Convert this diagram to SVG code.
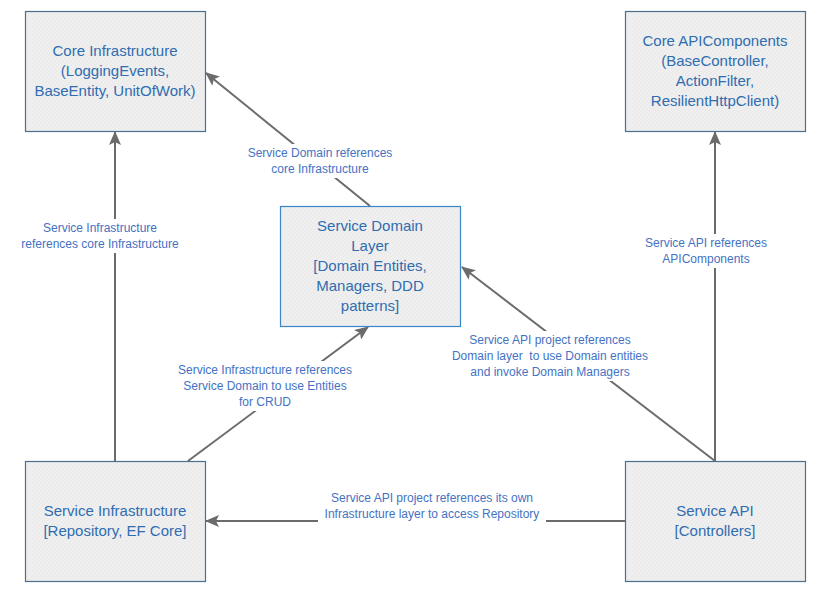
<svg xmlns="http://www.w3.org/2000/svg" width="832" height="597" viewBox="0 0 832 597">
<defs>
<marker id="ah" markerUnits="userSpaceOnUse" markerWidth="14" markerHeight="12" viewBox="0 0 14 12" refX="13" refY="6" orient="auto">
<path d="M0,0 L14,6 L0,12 L3,6 Z" fill="#6b6b6b"/>
</marker>
<pattern id="hatch" width="4" height="4" patternUnits="userSpaceOnUse">
<rect width="4" height="4" fill="#efefef"/>
<path d="M0,4 L4,0" stroke="#e2e2e2" stroke-width="0.6"/>
</pattern>
</defs>
<style>
.node{fill:url(#hatch);stroke:#4a6f8f;stroke-width:1.2}
.dom{stroke:#3b86c8}
.nt{font-family:"Liberation Sans",Arial,sans-serif;font-size:15px;fill:#2f6db0;text-anchor:middle}
.edge{stroke:#6b6b6b;stroke-width:2;fill:none;marker-end:url(#ah)}
.lt{font-family:"Liberation Sans",Arial,sans-serif;font-size:12px;fill:#4472c4;text-anchor:middle;white-space:pre}
.bg{fill:#ffffff}
</style>
<rect width="832" height="597" fill="#ffffff"/>
<g id="connectors">
<line class="edge" x1="115" y1="461" x2="115" y2="132"/>
<line class="edge" x1="370" y1="206" x2="206" y2="73"/>
<line class="edge" x1="188" y1="461" x2="368" y2="327"/>
<line class="edge" x1="715" y1="461" x2="462" y2="267"/>
<line class="edge" x1="715" y1="461" x2="715" y2="132"/>
<line class="edge" x1="625" y1="521" x2="206" y2="521"/>
<rect class="bg" x="15" y="219" width="171" height="34"/>
<text class="lt" x="100" y="232">Service Infrastructure</text>
<text class="lt" x="100" y="248">references core Infrastructure</text>
<rect class="bg" x="244" y="144" width="154" height="34"/>
<text class="lt" x="320" y="157">Service Domain references</text>
<text class="lt" x="320" y="173">core Infrastructure</text>
<rect class="bg" x="172" y="361" width="186" height="50"/>
<text class="lt" x="265" y="374">Service Infrastructure references</text>
<text class="lt" x="265" y="390">Service Domain to use Entities</text>
<text class="lt" x="265" y="406">for CRUD</text>
<rect class="bg" x="440" y="331" width="220" height="50"/>
<text class="lt" x="550" y="344">Service API project references</text>
<text class="lt" x="550" y="360">Domain layer  to use Domain entities</text>
<text class="lt" x="550" y="376">and invoke Domain Managers</text>
<rect class="bg" x="641" y="234" width="130" height="34"/>
<text class="lt" x="706" y="247">Service API references</text>
<text class="lt" x="706" y="263">APIComponents</text>
<rect class="bg" x="318" y="489" width="228" height="34"/>
<text class="lt" x="432" y="502">Service API project references its own</text>
<text class="lt" x="432" y="518">Infrastructure layer to access Repository</text>
</g>
<g id="core-infrastructure">
<rect class="node" x="25.5" y="11.5" width="180" height="120"/>
<text class="nt" x="115" y="56">Core Infrastructure</text>
<text class="nt" x="115" y="76">(LoggingEvents,</text>
<text class="nt" x="115" y="96">BaseEntity, UnitOfWork)</text>
</g>
<g id="core-apicomponents">
<rect class="node" x="625.5" y="11.5" width="180" height="120"/>
<text class="nt" x="715" y="46">Core APIComponents</text>
<text class="nt" x="715" y="66">(BaseController,</text>
<text class="nt" x="715" y="86">ActionFilter,</text>
<text class="nt" x="715" y="106">ResilientHttpClient)</text>
</g>
<g id="service-domain">
<rect class="node dom" x="280.5" y="206.5" width="180" height="120"/>
<text class="nt" x="370" y="231">Service Domain</text>
<text class="nt" x="370" y="251">Layer</text>
<text class="nt" x="370" y="271">[Domain Entities,</text>
<text class="nt" x="370" y="291">Managers, DDD</text>
<text class="nt" x="370" y="311">patterns]</text>
</g>
<g id="service-infrastructure">
<rect class="node" x="25.5" y="461.5" width="180" height="120"/>
<text class="nt" x="115" y="516">Service Infrastructure</text>
<text class="nt" x="115" y="536">[Repository, EF Core]</text>
</g>
<g id="service-api">
<rect class="node" x="625.5" y="461.5" width="180" height="120"/>
<text class="nt" x="715" y="516">Service API</text>
<text class="nt" x="715" y="536">[Controllers]</text>
</g>
</svg>
